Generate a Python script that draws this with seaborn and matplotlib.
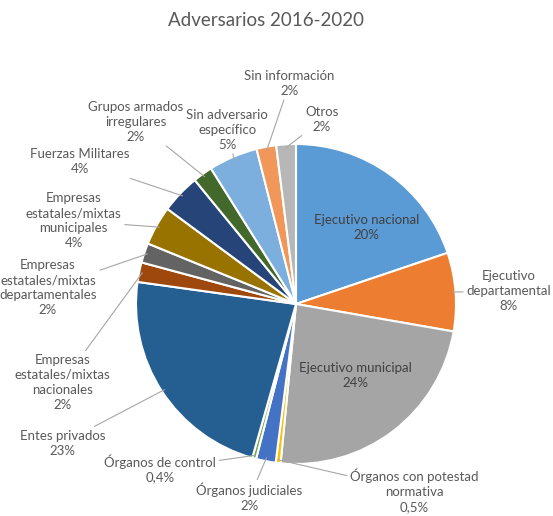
import matplotlib
matplotlib.use("Agg")
import matplotlib.pyplot as plt
import seaborn as sns
import numpy as np

# data
categories = [
    "Ejecutivo nacional", "Ejecutivo\ndepartamental", "Ejecutivo municipal",
    "Órganos con potestad\nnormativa", "Órganos judiciales", "Órganos de control",
    "Entes privados", "Empresas\nestatales/mixtas\nnacionales",
    "Empresas\nestatales/mixtas\ndepartamentales",
    "Empresas\nestatales/mixtas\nmunicipales", "Fuerzas Militares",
    "Grupos armados\nirregulares", "Sin adversario\nespecífico",
    "Sin información", "Otros",
]
values = [20, 8, 24, 0.5, 2, 0.4, 23, 2, 2, 4, 4, 2, 5, 2, 2]

colors = ["#5B9BD5", "#ED7D31", "#A5A5A5", "#FFC000", "#4472C4", "#70AD47",
          "#255E91", "#9E480E", "#636363", "#997300", "#264478", "#43682B",
          "#7CAFDD", "#F1975A", "#B7B7B7"]

# label placement (pie radius units); inside labels get no leader line
inside = [True, False, True, False, False, False, False, False, False,
          False, False, False, False, False, False]
label_pos = [(0.44, 0.48), (1.33, 0.08), (0.37, -0.45), (0.74, -1.17),
             (-0.29, -1.21), (-0.85, -1.03), (-1.46, -0.87), (-1.46, -0.49),
             (-1.55, 0.10), (-1.39, 0.52), (-1.35, 0.89), (-1.0, 1.14),
             (-0.43, 1.09), (-0.04, 1.38), (0.16, 1.15)]


def pct(v):
    if v < 1:
        return f"{v:.1f}%".replace(".", ",")
    return f"{v:.0f}%"


sns.set_style("white")
plt.rcParams["font.family"] = ["Lato", "DejaVu Sans"]

W, H = 553, 516
cx, cy, R = 296, 304, 160
fig = plt.figure(figsize=(W / 100, H / 100), dpi=100)
ax = fig.add_axes([0, 0, 1, 1])

wedges, _ = ax.pie(values, colors=colors, startangle=90, counterclock=False,
                   radius=1, wedgeprops=dict(edgecolor="white", linewidth=1.5))
ax.set_xlim(-cx / R, (W - cx) / R)
ax.set_ylim(-(H - cy) / R, cy / R)
ax.set_aspect("equal")
ax.axis("off")

txt = "#595959"
for w, cat, v, ins, pos in zip(wedges, categories, values, inside, label_pos):
    s = f"{cat}\n{pct(v)}"
    if ins:
        ax.text(pos[0], pos[1], s, ha="center", va="center", fontsize=9.5,
                color="#404040", linespacing=1.3)
        continue
    ang = np.deg2rad((w.theta1 + w.theta2) / 2)
    edge = (0.98 * np.cos(ang), 0.98 * np.sin(ang))
    ax.annotate(s, xy=edge, xytext=pos, ha="center", va="center",
                fontsize=9.5, color=txt, linespacing=1.3,
                arrowprops=dict(arrowstyle="-", color="#A6A6A6", lw=0.8,
                                shrinkA=0, shrinkB=0))

fig.text(266 / W, 1 - 20 / H, "Adversarios 2016-2020", ha="center",
         va="center", fontsize=13.5, color=txt)

fig.savefig("out.png", dpi=100, facecolor="white")
